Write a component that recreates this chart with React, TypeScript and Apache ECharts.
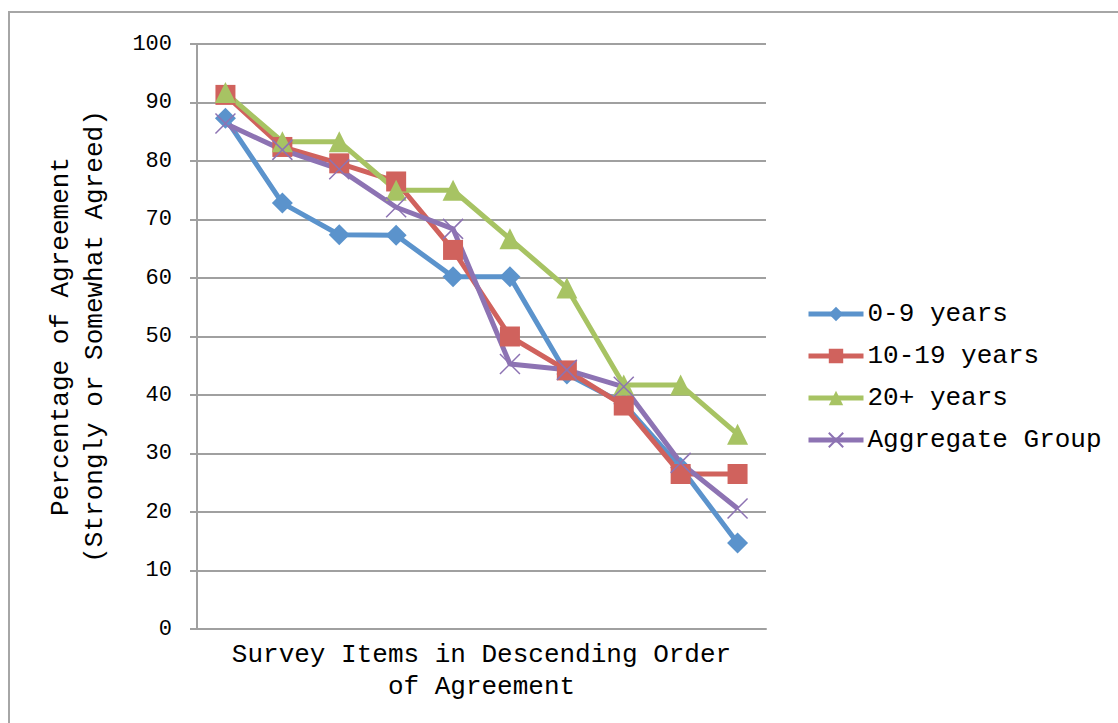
import React, { useEffect, useRef } from "react";
import * as echarts from "echarts";

const categories = ["1", "2", "3", "4", "5", "6", "7", "8", "9", "10"];
const years0to9 = [87.3, 72.8, 67.4, 67.3, 60.2, 60.2, 43.6, 38.5, 27.6, 14.7];
const years10to19 = [91.3, 82.4, 79.6, 76.5, 64.8, 50.0, 44.2, 38.2, 26.5, 26.5];
const years20plus = [91.7, 83.3, 83.3, 75.0, 75.0, 66.7, 58.3, 41.7, 41.7, 33.3];
const aggregate = [86.4, 81.9, 78.6, 72.1, 68.4, 45.3, 44.3, 41.4, 28.4, 20.6];
const yTicks = [0, 10, 20, 30, 40, 50, 60, 70, 80, 90, 100];

const FONT = "'Liberation Mono', 'DejaVu Sans Mono', monospace";

export default function App() {
  const ref = useRef<HTMLDivElement>(null);
  useEffect(() => {
    if (!ref.current) return;
    const chart = echarts.init(ref.current, undefined, { renderer: "svg" });
    const mk = (name: string, data: number[], color: string, symbol: string, size: number) => ({
      name,
      type: "line",
      data,
      symbol,
      symbolSize: size,
      lineStyle: { color, width: 5 },
      itemStyle: { color },
      emphasis: { disabled: true },
    });
    chart.setOption({
      animation: false,
      backgroundColor: "#ffffff",
      textStyle: { fontFamily: FONT, color: "#000" },
      graphic: [
        {
          type: "rect",
          shape: { x: 9, y: 12, width: 1300, height: 900 },
          style: { fill: "none", stroke: "#a6a6a6", lineWidth: 2 },
          silent: true,
        },
      ],
      grid: { left: 197, right: 352, top: 44, bottom: 94 },
      legend: {
        orient: "vertical",
        left: 806,
        top: 301,
        padding: 0,
        itemWidth: 55,
        itemHeight: 18,
        itemGap: 16,
        lineStyle: { width: 5 },
        textStyle: { fontFamily: FONT, fontSize: 26, color: "#000", lineHeight: 26, padding: [0, 0, 0, -1] },
        data: ["0-9 years", "10-19 years", "20+ years", "Aggregate Group"],
      },
      xAxis: {
        type: "category",
        data: categories,
        boundaryGap: true,
        axisLine: { lineStyle: { color: "#a0a0a0", width: 2 } },
        axisTick: { show: false },
        axisLabel: { show: false },
        name: "Survey Items in Descending Order\nof Agreement",
        nameLocation: "middle",
        nameGap: 10,
        nameTextStyle: { fontFamily: FONT, fontSize: 26, color: "#000", lineHeight: 32, verticalAlign: "top" },
      },
      yAxis: {
        type: "value",
        min: yTicks[0],
        max: yTicks[yTicks.length - 1],
        interval: 10,
        axisLine: { show: true, lineStyle: { color: "#a0a0a0", width: 2 } },
        axisTick: { show: true, length: 7, lineStyle: { color: "#a0a0a0", width: 2 } },
        axisLabel: { fontFamily: FONT, fontSize: 22, color: "#000", margin: 25 },
        splitLine: { show: true, lineStyle: { color: "#a0a0a0", width: 2 } },
        name: "Percentage of Agreement\n(Strongly or Somewhat Agreed)",
        nameLocation: "middle",
        nameGap: 85,
        nameTextStyle: { fontFamily: FONT, fontSize: 26, color: "#000", lineHeight: 34 },
      },
      series: [
        mk("0-9 years", years0to9, "#5b93cc", "diamond", 21),
        mk("10-19 years", years10to19, "#d0625d", "rect", 20),
        mk("20+ years", years20plus, "#a7c363", "triangle", 21),
        {
          name: "Aggregate Group",
          type: "line",
          data: aggregate,
          symbol: "path://M0,0L10,10M10,0L0,10",
          symbolSize: 20,
          lineStyle: { color: "#8d73b3", width: 5 },
          itemStyle: { color: "rgba(0,0,0,0)", borderColor: "#8d73b3", borderWidth: 1.5 },
          emphasis: { disabled: true },
        },
      ],
    });
    return () => chart.dispose();
  }, []);
  return <div ref={ref} style={{ position: "fixed", left: 0, top: 0, width: 1118, height: 723 }} />;
}
